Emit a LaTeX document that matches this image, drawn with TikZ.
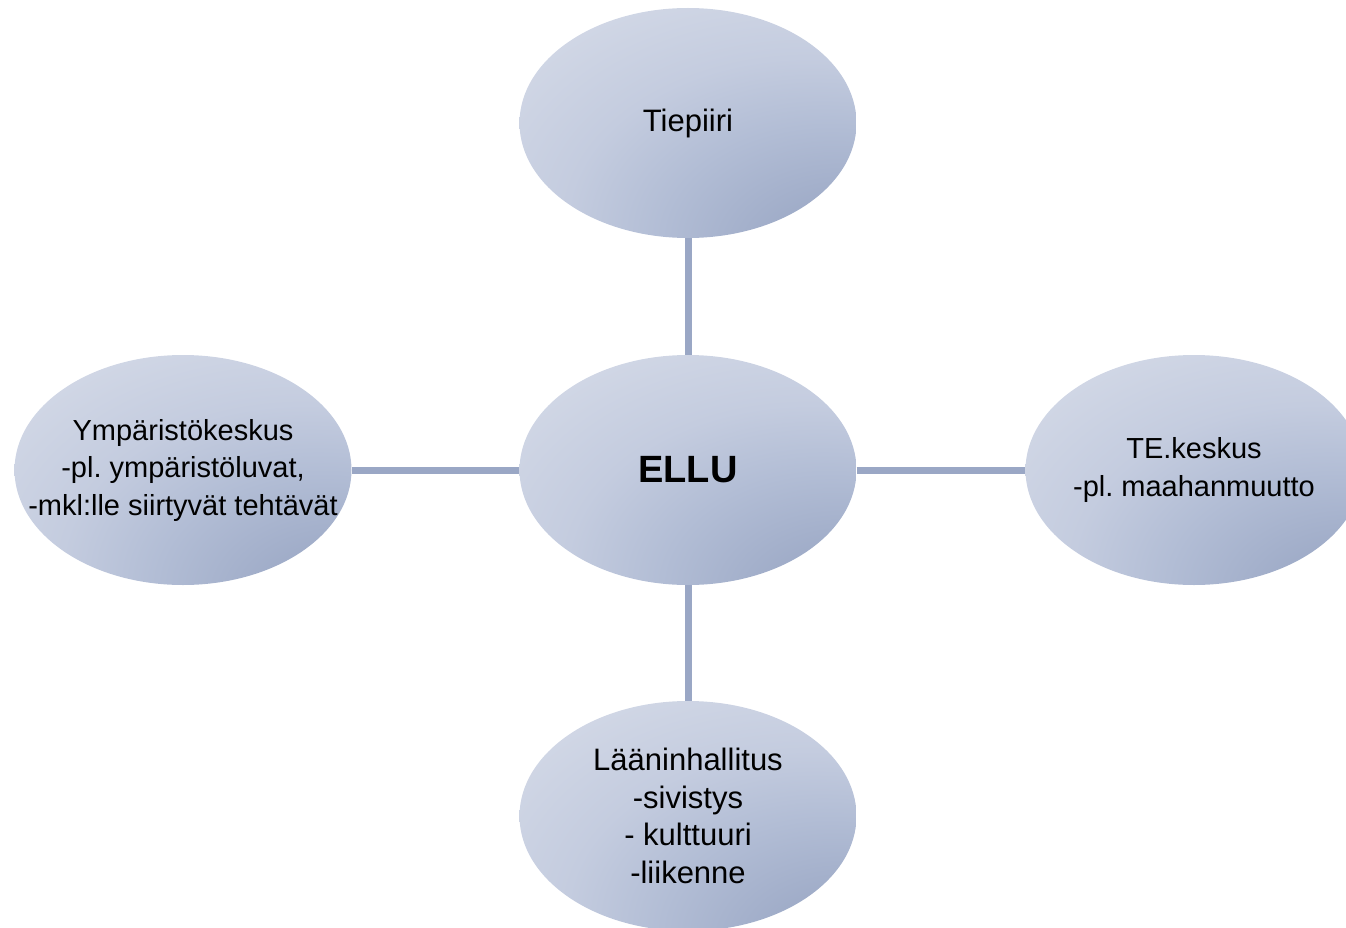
\documentclass[tikz,border=0pt]{standalone}
\usepackage{fontspec}
\setmainfont{Liberation Sans}
\frenchspacing
\usetikzlibrary{shapes.geometric}
\definecolor{linkblue}{HTML}{9AA7C5}
\definecolor{shadelight}{HTML}{D6DCE8}
\definecolor{shadepale}{HTML}{D2D8E6}
\definecolor{shademid}{HTML}{C4CCDF}
\definecolor{shadedeep}{HTML}{B2BDD5}
\definecolor{shadedark}{HTML}{9BA8C5}
\pgfdeclareradialshading{ovalshade}{\pgfpoint{28bp}{-34bp}}{%
  color(0bp)=(shadedark); color(10bp)=(shadedark); color(25bp)=(shadedeep);
  color(36bp)=(shademid); color(50bp)=(shadepale); color(100bp)=(shadelight)}
\tikzset{
  oval/.style={ellipse, shading=ovalshade, minimum width=337pt, minimum height=230pt,
    inner ysep=0pt, inner xsep=-80pt, align=center, font=\fontsize{29}{37.5}\selectfont},
  link/.style={linkblue, line width=7pt}
}

\begin{document}
\begin{tikzpicture}[x=1pt,y=-1pt]
  \useasboundingbox (0,0) rectangle (1346,928);
  \node[oval, font=\fontsize{31}{37.5}\selectfont] (tiepiiri) at (688,123) {Tiepiiri};
  \node[oval, font=\fontsize{38}{40}\selectfont\bfseries] (ellu) at (688,470) {ELLU};
  \node[oval] (ymparisto) at (183,470) {Ympäristökeskus\\-pl. ympäristöluvat,\\-mkl:lle siirtyvät tehtävät};
  \node[oval] (tekeskus) at (1194,470) {TE.keskus\\-pl. maahanmuutto};
  \node[oval, font=\fontsize{31}{37.5}\selectfont] (laani) at (688,816) {Lääninhallitus\\-sivistys\\- kulttuuri\\-liikenne};
  % yhteydet keskelle
  \draw[link] (tiepiiri) -- (ellu);
  \draw[link] (ellu) -- (laani);
  \draw[link] (ymparisto) -- (ellu);
  \draw[link] (ellu) -- (tekeskus);
\end{tikzpicture}
\end{document}
